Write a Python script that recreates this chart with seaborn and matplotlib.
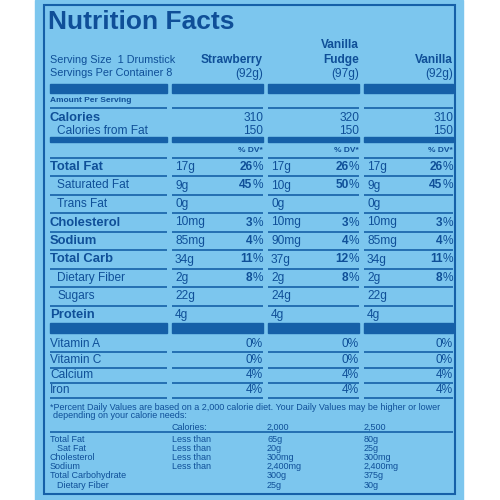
import matplotlib
matplotlib.use("Agg")
import matplotlib.pyplot as plt
import seaborn as sns

sns.set_theme(style="white")
plt.rcParams['font.family'] = ['Liberation Sans', 'DejaVu Sans']

flavors = [["Strawberry"], ["Vanilla", "Fudge"], ["Vanilla"]]
weights = ["(92g)", "(97g)", "(92g)"]
calories = ["310", "320", "310"]
cal_fat = ["150", "150", "150"]
nutrients = ["Total Fat", "Saturated Fat", "Trans Fat", "Cholesterol", "Sodium",
             "Total Carb", "Dietary Fiber", "Sugars", "Protein"]
nutrient_bold = [True, False, False, True, True, True, False, False, True]
amounts = [["17g", "9g", "0g", "10mg", "85mg", "34g", "2g", "22g", "4g"],
           ["17g", "10g", "0g", "10mg", "90mg", "37g", "2g", "24g", "4g"],
           ["17g", "9g", "0g", "10mg", "85mg", "34g", "2g", "22g", "4g"]]
dvs = [["26", "45", "", "3", "4", "11", "8", "", ""],
       ["26", "50", "", "3", "4", "12", "8", "", ""],
       ["26", "45", "", "3", "4", "11", "8", "", ""]]
vitamins = ["Vitamin A", "Vitamin C", "Calcium", "Iron"]
vit_dv = [["0%", "0%", "4%", "4%"], ["0%", "0%", "4%", "4%"], ["0%", "0%", "4%", "4%"]]
ref_labels = ["Total Fat", "Sat Fat", "Cholesterol", "Sodium", "Total Carbohydrate", "Dietary Fiber"]
ref_less = ["Less than", "Less than", "Less than", "Less than", "", ""]
ref_2000 = ["65g", "20g", "300mg", "2,400mg", "300g", "25g"]
ref_2500 = ["80g", "25g", "300mg", "2,400mg", "375g", "30g"]

BG = "#7cc6ee"
LN = "#1560a8"
TX = "#0f4f98"

fig = plt.figure(figsize=(5, 5), dpi=100)
ax = fig.add_axes([0, 0, 1, 1])
ax.set_xlim(0, 500)
ax.set_ylim(500, 0)
ax.axis("off")
ax.add_patch(plt.Rectangle((35, 0), 428, 500, color=BG, zorder=0))
ax.add_patch(plt.Rectangle((44, 5), 411, 489, fill=False, ec=LN, lw=1.5))

cols = [(50, 167), (172, 263), (268, 359), (364, 453)]
FS = 8.6
FB = 9.4
FF = 6.5

def hline(y, lw=1.2, x0=None, x1=None):
    if x0 is not None:
        ax.plot([x0, x1], [y, y], color=LN, lw=lw, solid_capstyle="butt")
        return
    for a, b in cols:
        ax.plot([a, b], [y, y], color=LN, lw=lw, solid_capstyle="butt")

def t(x, y, s, ha="left", bold=False, fs=FS):
    return ax.text(x, y, s, ha=ha, va="center", color=TX, fontsize=fs,
                   fontweight=("bold" if bold else "normal"))

t(48, 22, "Nutrition Facts", bold=True, fs=19)
t(50, 60, "Serving Size  1 Drumstick", fs=7.8)
t(50, 73, "Servings Per Container 8", fs=7.8)
for (a, b), fl, w in zip(cols[1:], flavors, weights):
    for i, line in enumerate(reversed(fl)):
        t(b, 60 - 15 * i, line, ha="right", bold=True, fs=FS)
    t(b, 74, w, ha="right")
for a, b in cols:
    ax.add_patch(plt.Rectangle((a, 84), b - a, 9, color=LN))
t(50, 100, "Amount Per Serving", bold=True, fs=6)
hline(108)
t(50, 118, "Calories", bold=True, fs=FB)
t(57, 131, "Calories from Fat")
for (a, b), c, cf in zip(cols[1:], calories, cal_fat):
    t(b, 118, c, ha="right")
    t(b, 131, cf, ha="right")
for a, b in cols:
    ax.add_patch(plt.Rectangle((a, 137), b - a, 5, color=LN))
for a, b in cols[1:]:
    t(b, 151, "% DV*", ha="right", bold=True, fs=6)
hline(158)

fig.canvas.draw()
r = fig.canvas.get_renderer()
pt = ax.text(0, 0, "%", fontsize=FS)
pw = pt.get_window_extent(r).width
pt.remove()

y0, step = 167, 18.5
for i, (n, b_) in enumerate(zip(nutrients, nutrient_bold)):
    y = y0 + i * step
    t(50 if b_ else 57, y, n, bold=b_, fs=FB if b_ else FS)
    for c, (a, b) in enumerate(cols[1:]):
        t(a + 3, y, amounts[c][i])
        if dvs[c][i]:
            t(b, y, "%", ha="right")
            t(b - pw, y, dvs[c][i], ha="right", bold=True)
    if i < len(nutrients) - 1:
        hline(y + step / 2)
for a, b in cols:
    ax.add_patch(plt.Rectangle((a, 323), b - a, 10, color=LN))

vy = [344, 360, 375, 390]
for i, v in enumerate(vitamins):
    t(50, vy[i], v)
    for c, (a, b) in enumerate(cols[1:]):
        t(b, vy[i], vit_dv[c][i], ha="right")
    hline(vy[i] + 7.5)

t(50, 407, "*Percent Daily Values are based on a 2,000 calorie diet. Your Daily Values may be higher or lower", fs=FF)
t(53, 416, "depending on your calorie needs:", fs=FF)
t(172, 427, "Calories:", fs=FF)
t(267, 427, "2,000", fs=FF)
t(364, 427, "2,500", fs=FF)
hline(432, x0=50, x1=453)
for i in range(len(ref_labels)):
    y = 439 + i * 9.2
    t(50 if i not in (1, 5) else 57, y, ref_labels[i], fs=FF)
    t(172, y, ref_less[i], fs=FF)
    t(267, y, ref_2000[i], fs=FF)
    t(364, y, ref_2500[i], fs=FF)

fig.savefig("out.png", dpi=100, facecolor="white")
